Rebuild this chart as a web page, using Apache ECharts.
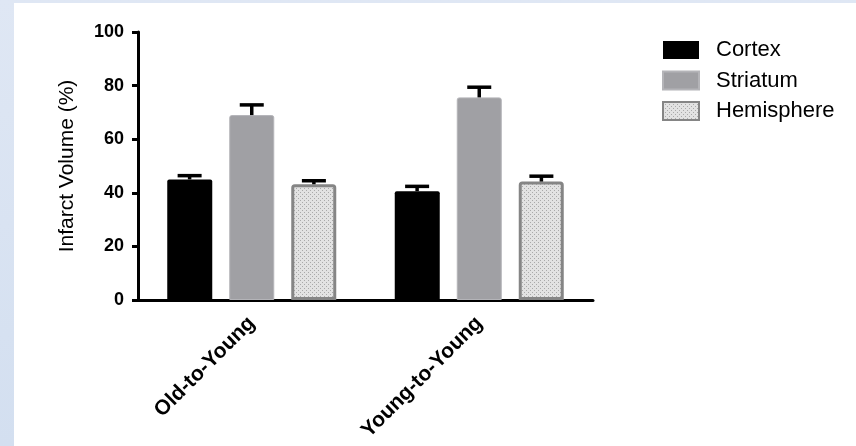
<!DOCTYPE html>
<html>
<head>
<meta charset="utf-8">
<script src="https://cdn.jsdelivr.net/npm/echarts@6/dist/echarts.min.js"></script>
<style>
html,body{margin:0;padding:0;}
#chart{width:856px;height:446px;}
</style>
</head>
<body>
<div id="chart"></div>
<script>
const categories = ['Old-to-Young', 'Young-to-Young'];
const seriesNames = ['Cortex', 'Striatum', 'Hemisphere'];
const cortexValues = [45, 40.6];
const cortexErrors = [1.4, 1.8];
const striatumValues = [69, 75.6];
const striatumErrors = [3.8, 3.8];
const hemisphereValues = [43.2, 44.2];
const hemisphereErrors = [1.3, 2.0];
const yTicks = [0, 20, 40, 60, 80, 100];

// dotted pattern for Hemisphere
const pc = document.createElement('canvas');
pc.width = 4; pc.height = 4;
const pctx = pc.getContext('2d');
pctx.fillStyle = '#e2e2e2';
pctx.fillRect(0, 0, 4, 4);
pctx.fillStyle = '#a9a9a9';
pctx.fillRect(0, 0, 1, 1);
pctx.fillRect(2, 2, 1, 1);
const hemiPattern = { image: pc, repeat: 'repeat' };

const chart = echarts.init(document.getElementById('chart'));

const errData = [];
[[cortexValues, cortexErrors], [striatumValues, striatumErrors], [hemisphereValues, hemisphereErrors]].forEach((pair, k) => {
  pair[0].forEach((v, i) => errData.push([i, v, pair[1][i], k]));
});

const barWidth = 45;
const barGapPx = 17;
const FONT = 'Liberation Sans, Arial, sans-serif';

chart.setOption({
  animation: false,
  backgroundColor: {
    type: 'linear', x: 0, y: 0, x2: 0, y2: 1,
    colorStops: [{ offset: 0, color: '#dfe7f4' }, { offset: 1, color: '#d3dff0' }]
  },
  graphic: [{
    type: 'rect', left: 14, top: 3, shape: { width: 842, height: 443 },
    style: { fill: '#ffffff' }, z: -10, silent: true
  }],
  grid: { left: 138, right: 263, top: 32, bottom: 146, containLabel: false },
  legend: {
    orient: 'vertical',
    left: 662, top: 39, padding: 0,
    itemWidth: 36, itemHeight: 18, itemGap: 8.5,
    icon: 'rect',
    data: seriesNames,
    textStyle: { fontFamily: FONT, fontSize: 22, color: '#000', padding: [0, 0, 0, 12] }
  },
  xAxis: {
    type: 'category',
    data: categories,
    axisLine: { lineStyle: { color: '#000', width: 3 } },
    axisTick: { alignWithLabel: true, length: 8, lineStyle: { color: '#000', width: 3 } },
    axisLabel: {
      rotate: 45, margin: 20,
      fontFamily: FONT, fontWeight: 'bold', fontSize: 21, color: '#000'
    }
  },
  yAxis: {
    type: 'value', min: 0, max: 100, interval: 20,
    name: 'Infarct Volume (%)',
    nameLocation: 'middle', nameGap: 60, nameRotate: 90,
    nameTextStyle: { fontFamily: FONT, fontSize: 21, color: '#000' },
    splitLine: { show: false },
    axisLine: { show: true, lineStyle: { color: '#000', width: 3 } },
    axisTick: { show: true, length: 6, lineStyle: { color: '#000', width: 3 } },
    axisLabel: {
      margin: 14,
      fontFamily: FONT, fontWeight: 'bold', fontSize: 18, color: '#000',
      formatter: v => yTicks.includes(v) ? String(v) : ''
    }
  },
  series: [
    {
      name: 'Cortex', type: 'bar', data: cortexValues,
      barWidth: barWidth, barGap: (barGapPx / barWidth * 100) + '%',
      itemStyle: { color: '#000000', borderRadius: [2, 2, 0, 0] }
    },
    {
      name: 'Striatum', type: 'bar', data: striatumValues,
      barWidth: barWidth, barGap: (barGapPx / barWidth * 100) + '%',
      itemStyle: { color: '#a0a0a4', borderColor: '#b4b4b8', borderWidth: 1, borderRadius: [2, 2, 0, 0] }
    },
    {
      name: 'Hemisphere', type: 'bar', data: hemisphereValues,
      barWidth: barWidth, barGap: (barGapPx / barWidth * 100) + '%',
      itemStyle: { color: hemiPattern, borderColor: '#858585', borderWidth: 3, borderRadius: [2, 2, 0, 0] }
    },
    {
      type: 'custom',
      data: errData,
      z: 5,
      renderItem: function (params, api) {
        const i = api.value(0), v = api.value(1), e = api.value(2), k = api.value(3);
        const bandW = api.size([1, 0])[0];
        const off = (k - 1) * bandW * (barWidth + barGapPx) / 227;
        const p0 = api.coord([i, v]);
        const p1 = api.coord([i, v + e]);
        const cx = p0[0] + off;
        const st = { stroke: '#000', lineWidth: 3.5 };
        return {
          type: 'group',
          children: [
            { type: 'line', shape: { x1: cx, y1: p0[1], x2: cx, y2: p1[1] }, style: st },
            { type: 'line', shape: { x1: cx - 12, y1: p1[1], x2: cx + 12, y2: p1[1] }, style: st }
          ]
        };
      }
    }
  ]
});
</script>
</body>
</html>
